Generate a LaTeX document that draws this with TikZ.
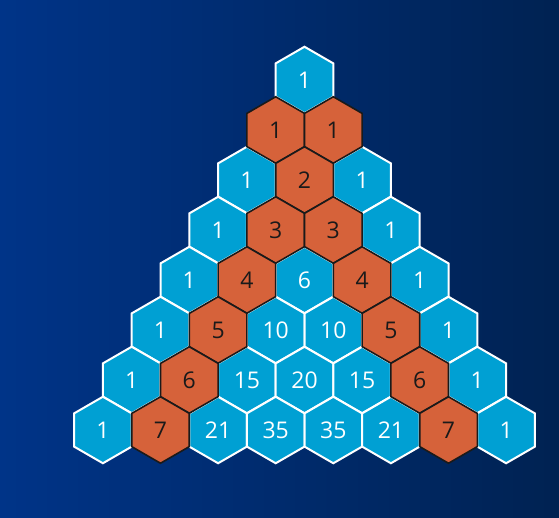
\documentclass[tikz,border=0pt]{standalone}
\usepackage{fontspec}
\setmainfont{Open Sans}
\usepackage{tikz}
\usetikzlibrary{shapes.geometric}
\definecolor{bgLeft}{RGB}{0,52,136}
\definecolor{bgRight}{RGB}{0,34,82}
\definecolor{cellBlue}{RGB}{0,160,211}
\definecolor{cellOrange}{RGB}{214,98,58}
\definecolor{cellInk}{RGB}{26,26,26}

\tikzset{
  cell/.style={regular polygon, regular polygon sides=6, shape border rotate=30,
    minimum size=66.5pt, inner sep=0pt, font=\fontsize{23}{23}\selectfont},
  bluecell/.style={cell, fill=cellBlue, draw=white, line width=2pt, text=white},
  orangecell/.style={cell, fill=cellOrange, draw=cellInk, line width=1.6pt, text=cellInk}
}

\newcommand{\pascalrows}{0/{1},1/{1,1},2/{1,2,1},3/{1,3,3,1},4/{1,4,6,4,1},
  5/{1,5,10,10,5,1},6/{1,6,15,20,15,6,1},7/{1,7,21,35,35,21,7,1}}

\begin{document}
\begin{tikzpicture}[x=1pt,y=1pt]
    % background
    \useasboundingbox (0,0) rectangle (559,517);
    \fill[left color=bgLeft, right color=bgRight] (0,0) rectangle (559,517);

    % blue cells
    \foreach \n/\vals in \pascalrows {
      \foreach \v [count=\k from 0] in \vals {
        \pgfmathtruncatemacro{\isorange}{(\n>0)&&((\k==1)||(\k==\n-1))}
        \ifnum\isorange=0
          \node[bluecell] (c\n-\k) at ({304.5+(\k-\n/2)*57.6},{437-50*\n}) {\v};
        \fi
      }
    }

    % orange cells on top
    \foreach \n/\vals in \pascalrows {
      \foreach \v [count=\k from 0] in \vals {
        \pgfmathtruncatemacro{\isorange}{(\n>0)&&((\k==1)||(\k==\n-1))}
        \ifnum\isorange=1
          \node[orangecell] (c\n-\k) at ({304.5+(\k-\n/2)*57.6},{437-50*\n}) {\v};
        \fi
      }
    }
\end{tikzpicture}
\end{document}
